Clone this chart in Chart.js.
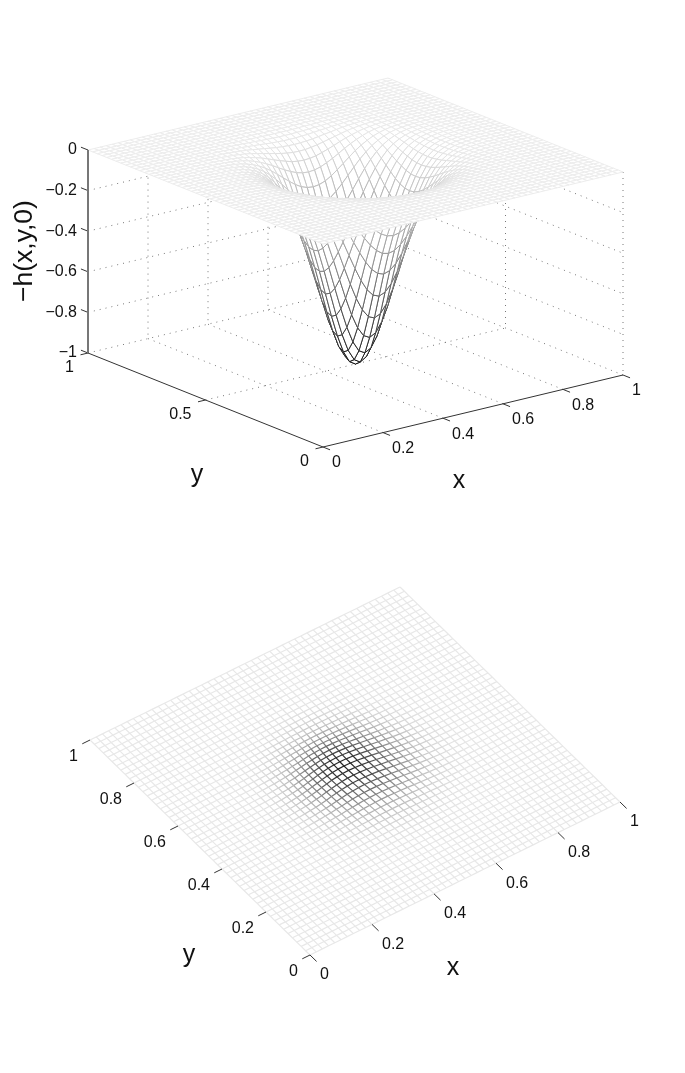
<!DOCTYPE html>
<html>
<head>
<meta charset="utf-8">
<title>-h(x,y,0)</title>
<style>
  html, body { margin: 0; padding: 0; background: #fff; }
  canvas { display: block; }
</style>
</head>
<body>
<canvas id="surfaceChart" width="685" height="536"></canvas>
<canvas id="topViewChart" width="685" height="537"></canvas>
<script src="https://cdn.jsdelivr.net/npm/chart.js@4/dist/chart.umd.js"></script>
<script>
// Axis ticks
const xTicks = [0, 0.2, 0.4, 0.6, 0.8, 1];
const xTickLabels = ['0', '0.2', '0.4', '0.6', '0.8', '1'];
const surfaceYTicks = [0, 0.5, 1];
const surfaceYTickLabels = ['0', '0.5', '1'];
const topViewYTicks = [0, 0.2, 0.4, 0.6, 0.8, 1];
const topViewYTickLabels = ['0', '0.2', '0.4', '0.6', '0.8', '1'];
const zTicks = [0, -0.2, -0.4, -0.6, -0.8, -1];
const zTickLabels = ['0', '\u22120.2', '\u22120.4', '\u22120.6', '\u22120.8', '\u22121'];

// Mesh has 50 cells a side, the well sits at node (25,25)
const meshCells = 50;
const wellNode = 25;

// Depth of the well, by node distance from the centre
// (one quadrant, rows = |i-25|, columns = |j-25|). Everything further out is flat.
const wellDepth = [
  [1.000, .981, .926, .841, .736, .619, .501, .390, .293, .211, .147, .098, .063, .039, .023, .013, .007, .004, .002],
  [ .981, .962, .909, .825, .722, .607, .491, .383, .287, .207, .144, .096, .062, .038, .023, .013, .007, .004, .002],
  [ .926, .909, .858, .779, .681, .573, .464, .361, .271, .196, .136, .091, .058, .036, .021, .012, .007, .004, .002],
  [ .841, .825, .779, .708, .619, .521, .421, .328, .246, .178, .123, .082, .053, .033, .020, .011, .006, .003, .002],
  [ .736, .722, .681, .619, .541, .455, .368, .287, .215, .155, .108, .072, .046, .029, .017, .010, .005, .003, .001],
  [ .619, .607, .573, .521, .455, .383, .310, .242, .181, .131, .091, .061, .039, .024, .014, .008, .005, .002, .001],
  [ .501, .491, .464, .421, .368, .310, .251, .196, .147, .106, .073, .049, .032, .020, .012, .007, .004, .002, .001],
  [ .390, .383, .361, .328, .287, .242, .196, .152, .114, .082, .057, .038, .025, .015, .009, .005, .003, .002, .001],
  [ .293, .287, .271, .246, .215, .181, .147, .114, .086, .062, .043, .029, .018, .011, .007, .004, .002, .001, .001],
  [ .211, .207, .196, .178, .155, .131, .106, .082, .062, .045, .031, .021, .013, .008, .005, .003, .002, .001, 0],
  [ .147, .144, .136, .123, .108, .091, .073, .057, .043, .031, .021, .014, .009, .006, .003, .002, .001, .001, 0],
  [ .098, .096, .091, .082, .072, .061, .049, .038, .029, .021, .014, .010, .006, .004, .002, .001, .001, 0, 0],
  [ .063, .062, .058, .053, .046, .039, .032, .025, .018, .013, .009, .006, .004, .002, .001, .001, 0, 0, 0],
  [ .039, .038, .036, .033, .029, .024, .020, .015, .011, .008, .006, .004, .002, .002, .001, .001, 0, 0, 0],
  [ .023, .023, .021, .020, .017, .014, .012, .009, .007, .005, .003, .002, .001, .001, .001, 0, 0, 0, 0],
  [ .013, .013, .012, .011, .010, .008, .007, .005, .004, .003, .002, .001, .001, .001, 0, 0, 0, 0, 0],
  [ .007, .007, .007, .006, .005, .005, .004, .003, .002, .002, .001, .001, 0, 0, 0, 0, 0, 0, 0],
  [ .004, .004, .004, .003, .003, .002, .002, .002, .001, .001, .001, 0, 0, 0, 0, 0, 0, 0, 0],
  [ .002, .002, .002, .002, .001, .001, .001, .001, .001, 0, 0, 0, 0, 0, 0, 0, 0, 0, 0]
];

const FONT = '"Liberation Sans", Arial, sans-serif';

function depthAt(i, j) {
  const row = wellDepth[Math.abs(i - wellNode)];
  if (!row) return 0;
  return row[Math.abs(j - wellNode)] || 0;
}

// Orthographic views, origin is where x=0,y=0 sits at depth 0
const surfaceView = { ox: 323, oy: 244, xx: 300, xy: -72, yx: -235, yy: -94, sideways: 0, down: 203, light: 236, dark: 20, cellWidth: 1 };
const topView = { ox: 310, oy: 955, xx: 310, xy: -153, yx: -220, yy: -215, sideways: -11, down: -5, light: 232, dark: 35, cellWidth: 1.2 };

function project(view, x, y, depth) {
  return {
    x: view.ox + x * view.xx + y * view.yx + depth * view.sideways,
    y: view.oy + x * view.xy + y * view.yy + depth * view.down,
    depth: depth
  };
}

function meshGray(view, depth) {
  const g = Math.round(view.dark + (view.light - view.dark) * (1 - depth));
  return 'rgb(' + g + ',' + g + ',' + g + ')';
}

function lineSet(points, color, width, dash) {
  return {
    data: points,
    borderColor: color,
    borderWidth: width,
    borderDash: dash || [],
    pointRadius: 0,
    fill: false,
    tension: 0
  };
}

// mesh edge coloured by the depth of its two ends
function meshLine(view, points) {
  const set = lineSet(points, meshGray(view, 0), view.cellWidth);
  if (points.some(p => p.depth > 0)) {
    set.segment = {
      borderColor: c => meshGray(view, (points[c.p0DataIndex].depth + points[c.p1DataIndex].depth) / 2)
    };
  }
  return set;
}

// One closed cell with a white inside, so nearer cells hide what is behind them.
// Per-segment colours break the shape fill, so sloped cells get a separate white set.
function meshCell(view, i, j) {
  const n = meshCells;
  const corner = (a, b) => project(view, a / n, b / n, depthAt(a, b));
  const points = [corner(i, j), corner(i + 1, j), corner(i + 1, j + 1), corner(i, j + 1), corner(i, j)];
  const edges = meshLine(view, points);
  if (!edges.segment) {
    edges.fill = 'shape';
    edges.backgroundColor = '#fff';
    return [edges];
  }
  const inside = lineSet(points, 'rgba(0,0,0,0)', 0);
  inside.fill = 'shape';
  inside.backgroundColor = '#fff';
  return [edges, inside];
}

function axisSets(view) {
  const floor = (x, y) => project(view, x, y, 1);
  const sets = [];
  // solid axes and ticks
  sets.push(lineSet([floor(0, 1), floor(0, 0), floor(1, 0)], '#333', 1));
  sets.push(lineSet([project(view, 0, 1, 1), project(view, 0, 1, 0)], '#777', 2));
  xTicks.forEach(t => sets.push(lineSet([floor(t, 0), floor(t, -0.03)], '#333', 1)));
  surfaceYTicks.forEach(t => sets.push(lineSet([floor(0, t), floor(-0.025, t)], '#333', 1)));
  zTicks.forEach(t => sets.push(lineSet([project(view, 0, 1, -t), project(view, 0, 1.03, -t)], '#333', 1)));
  return sets;
}

function gridSets(view) {
  const dots = [1, 5];
  const color = '#777';
  const sets = [];
  const floor = (x, y) => project(view, x, y, 1);
  // floor
  xTicks.slice(1).forEach(t => sets.push(lineSet([floor(t, 0), floor(t, 1)], color, 1, dots)));
  surfaceYTicks.slice(1).forEach(t => sets.push(lineSet([floor(0, t), floor(1, t)], color, 1, dots)));
  // walls, horizontal
  zTicks.slice(1, -1).forEach(t => {
    const d = -t;
    sets.push(lineSet([project(view, 0, 1, d), project(view, 1, 1, d), project(view, 1, 0, d)], color, 1, dots));
  });
  // walls, vertical
  xTicks.slice(1, -1).forEach(t => sets.push(lineSet([project(view, t, 1, 0), project(view, t, 1, 1)], color, 1, dots)));
  surfaceYTicks.forEach(t => sets.push(lineSet([project(view, 1, t, 0), project(view, 1, t, 1)], color, 1, dots)));
  return sets;
}

// Chart.js paints the first dataset last, so nearest first
function surfaceDatasets() {
  let sets = axisSets(surfaceView);
  for (let sum = 0; sum <= 2 * (meshCells - 1); sum++) {
    for (let i = 0; i < meshCells; i++) {
      const j = sum - i;
      if (j >= 0 && j < meshCells) sets = sets.concat(meshCell(surfaceView, i, j));
    }
  }
  return sets.concat(gridSets(surfaceView));
}

function topViewDatasets() {
  const sets = [];
  const n = meshCells;
  const floor = (x, y) => project(topView, x, y, 0);
  xTicks.forEach(t => sets.push(lineSet([floor(t, 0), floor(t, -0.03)], '#333', 1)));
  topViewYTicks.forEach(t => sets.push(lineSet([floor(0, t), floor(-0.025, t)], '#333', 1)));
  for (let i = 0; i <= n; i++) {
    const along = [];
    const across = [];
    for (let j = 0; j <= n; j++) {
      along.push(project(topView, i / n, j / n, depthAt(i, j)));
      across.push(project(topView, j / n, i / n, depthAt(j, i)));
    }
    sets.push(meshLine(topView, along));
    sets.push(meshLine(topView, across));
  }
  return sets;
}

function textPlugin(draw) {
  return {
    id: 'axisText',
    afterDraw(chart) {
      const ctx = chart.ctx;
      const sx = chart.scales.x;
      const sy = chart.scales.y;
      const put = (text, px, py, align, size) => {
        ctx.font = size + 'px ' + FONT;
        ctx.textAlign = align;
        ctx.textBaseline = 'middle';
        ctx.fillStyle = '#111';
        ctx.fillText(text, sx.getPixelForValue(px), sy.getPixelForValue(py));
      };
      ctx.save();
      draw(put, ctx);
      ctx.restore();
    }
  };
}

function makeChart(id, datasets, yMin, yMax, plugin) {
  return new Chart(document.getElementById(id), {
    type: 'line',
    data: { datasets: datasets },
    options: {
      responsive: false,
      animation: false,
      devicePixelRatio: 1,
      events: [],
      layout: { padding: 0 },
      plugins: { legend: { display: false }, tooltip: { enabled: false } },
      scales: {
        x: { type: 'linear', display: false, min: 0, max: 685 },
        y: { type: 'linear', display: false, min: yMin, max: yMax, reverse: true }
      }
    },
    plugins: [plugin]
  });
}

makeChart('surfaceChart', surfaceDatasets(), 0, 536, textPlugin((put, ctx) => {
  const v = surfaceView;
  xTicks.forEach((t, k) => {
    const p = project(v, t, 0, 1);
    put(xTickLabels[k], p.x + 9, p.y + 16, 'left', 16);
  });
  surfaceYTicks.forEach((t, k) => {
    const p = project(v, 0, t, 1);
    put(surfaceYTickLabels[k], p.x - 14, p.y + 15, 'right', 16);
  });
  zTicks.forEach((t, k) => {
    const p = project(v, 0, 1, -t);
    put(zTickLabels[k], p.x - 11, p.y, 'right', 16);
  });
  put('x', 459, 481, 'center', 25);
  put('y', 197, 475, 'center', 25);
  ctx.save();
  ctx.translate(25, 251);
  ctx.rotate(-Math.PI / 2);
  ctx.font = '26.5px ' + FONT;
  ctx.textAlign = 'center';
  ctx.textBaseline = 'middle';
  ctx.fillStyle = '#111';
  ctx.fillText('\u2212h(x,y,0)', 0, 0);
  ctx.restore();
}));

makeChart('topViewChart', topViewDatasets(), 536, 1073, textPlugin(put => {
  const v = topView;
  xTicks.forEach((t, k) => {
    const p = project(v, t, 0, 0);
    put(xTickLabels[k], p.x + 10, p.y + 20, 'left', 16);
  });
  topViewYTicks.forEach((t, k) => {
    const p = project(v, 0, t, 0);
    put(topViewYTickLabels[k], p.x - 12, p.y + 17, 'right', 16);
  });
  put('x', 453, 968, 'center', 25);
  put('y', 189, 955, 'center', 25);
}));
</script>
</body>
</html>
